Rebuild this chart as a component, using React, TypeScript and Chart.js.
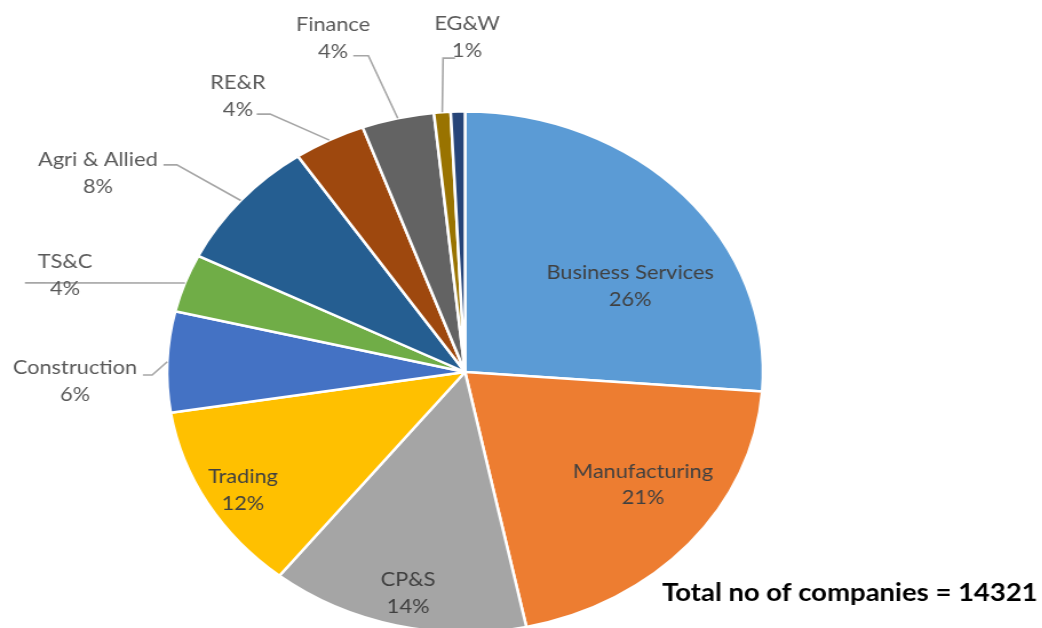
import React, { useEffect, useRef } from 'react';
import { Chart, registerables } from 'chart.js';

Chart.register(...registerables);

// ---- data ----
const CATEGORIES = ['Business Services', 'Manufacturing', 'CP&S', 'Trading', 'Construction', 'TS&C', 'Agri & Allied', 'RE&R', 'Finance', 'EG&W', 'Others'];
const COMPANIES = [3752, 2936, 2005, 1690, 895, 516, 1170, 558, 560, 129, 110];
const COLORS = ['#5B9BD5', '#ED7D31', '#A5A5A5', '#FFC000', '#4472C4', '#70AD47', '#255E91', '#9E480E', '#636363', '#997300', '#264478'];
const TOTAL_PREFIX = 'Total no of companies = ';

// ---- layout (relative to pie centre, in units of the pie radius) ----
type Lbl = { tx: number; ty: number; inside?: boolean; elbow?: [number, number]; end?: [number, number] };
const LABEL_LAYOUT: Record<string, Lbl> = {
  'Business Services': { tx: 0.554, ty: -0.38, inside: true },
  'Manufacturing': { tx: 0.597, ty: 0.383, inside: true },
  'CP&S': { tx: -0.191, ty: 0.798, inside: true },
  'Trading': { tx: -0.745, ty: 0.403, inside: true },
  'Construction': { tx: -1.309, ty: -0.0154, elbow: [-1.05, 0.0115], end: [-1.081, 0.0115] },
  'TS&C': { tx: -1.342, ty: -0.422, elbow: [-1.477, -0.342], end: [-1.477, -0.342] },
  'Agri & Allied': { tx: -1.232, ty: -0.814, elbow: [-0.967, -0.795], end: [-1.012, -0.795] },
  'RE&R': { tx: -0.762, ty: -1.109, elbow: [-0.654, -0.99], end: [-0.699, -0.99] },
  'Finance': { tx: -0.443, ty: -1.332, elbow: [-0.3245, -1.214], end: [-0.375, -1.214] },
  'EG&W': { tx: 0.0067, ty: -1.336, elbow: [-0.0738, -1.205], end: [-0.0336, -1.205] },
};

const STRETCH_X = 1.144;
const PAGE_W = 1042;
const PAGE_H = 628;
const CANVAS_W = 911;
const CANVAS_H = 640;
const LINE_GAP = 26.5;
const FONT = 'Lato, "Noto Sans", sans-serif';

const labelPlugin = {
  id: 'pieLabels',
  afterDatasetsDraw(chart: any) {
    const ctx: CanvasRenderingContext2D = chart.ctx;
    const meta = chart.getDatasetMeta(0);
    const total = COMPANIES.reduce((a, b) => a + b, 0);
    ctx.save();
    meta.data.forEach((arc: any, i: number) => {
      const layout = LABEL_LAYOUT[CATEGORIES[i]];
      if (!layout) return;
      const { x, y, startAngle, endAngle, outerRadius } = arc.getProps(['x', 'y', 'startAngle', 'endAngle', 'outerRadius'], true);
      const R = outerRadius;
      const pct = Math.round((COMPANIES[i] / total) * 100) + '%';
      const tx = x + layout.tx * R;
      const ty = y + layout.ty * R;
      if (layout.elbow && layout.end) {
        const mid = (startAngle + endAngle) / 2;
        const sx = x + Math.cos(mid) * R;
        const sy = y + Math.sin(mid) * R;
        ctx.beginPath();
        ctx.strokeStyle = '#A6A6A6';
        ctx.lineWidth = 1.6;
        ctx.moveTo(sx, sy);
        ctx.lineTo(x + layout.elbow[0] * R, y + layout.elbow[1] * R);
        ctx.lineTo(x + layout.end[0] * R, y + layout.end[1] * R);
        ctx.stroke();
      }
      ctx.fillStyle = layout.inside ? '#404040' : '#595959';
      ctx.font = `19px ${FONT}`;
      ctx.textAlign = 'center';
      ctx.textBaseline = 'middle';
      ctx.fillText(CATEGORIES[i], tx, ty);
      ctx.fillText(pct, tx, ty + LINE_GAP);
    });
    // total note
    ctx.fillStyle = '#000000';
    ctx.font = `bold 24px ${FONT}`;
    ctx.textAlign = 'right';
    ctx.textBaseline = 'middle';
    ctx.fillText(TOTAL_PREFIX + total, chart.chartArea.right + 94, 593);
    ctx.restore();
  },
};

export default function App() {
  const canvasRef = useRef<HTMLCanvasElement | null>(null);

  useEffect(() => {
    const canvas = canvasRef.current;
    if (!canvas) return;
    const chart = new Chart(canvas, {
      type: 'pie',
      data: {
        labels: CATEGORIES,
        datasets: [
          {
            data: COMPANIES,
            backgroundColor: COLORS,
            borderColor: '#FFFFFF',
            borderWidth: 2.5,
            radius: 260.5,
          } as any,
        ],
      },
      options: {
        responsive: false,
        animation: false,
        devicePixelRatio: 1,
        layout: { padding: { left: 0, right: 98, top: 104, bottom: 0 } },
        plugins: {
          legend: { display: false },
          tooltip: { enabled: false },
          title: { display: false },
        },
      },
      plugins: [labelPlugin],
    });
    return () => chart.destroy();
  }, []);

  return (
    <div
      style={{
        position: 'fixed',
        left: 0,
        top: 0,
        width: PAGE_W,
        height: PAGE_H,
        overflow: 'hidden',
        background: '#FFFFFF',
      }}
    >
      <div
        style={{
          width: CANVAS_W,
          height: CANVAS_H,
          transform: `scaleX(${STRETCH_X})`,
          transformOrigin: '0 0',
        }}
      >
        <canvas
          ref={canvasRef}
          width={CANVAS_W}
          height={CANVAS_H}
          style={{ display: 'block', width: CANVAS_W, height: CANVAS_H }}
        />
      </div>
    </div>
  );
}
